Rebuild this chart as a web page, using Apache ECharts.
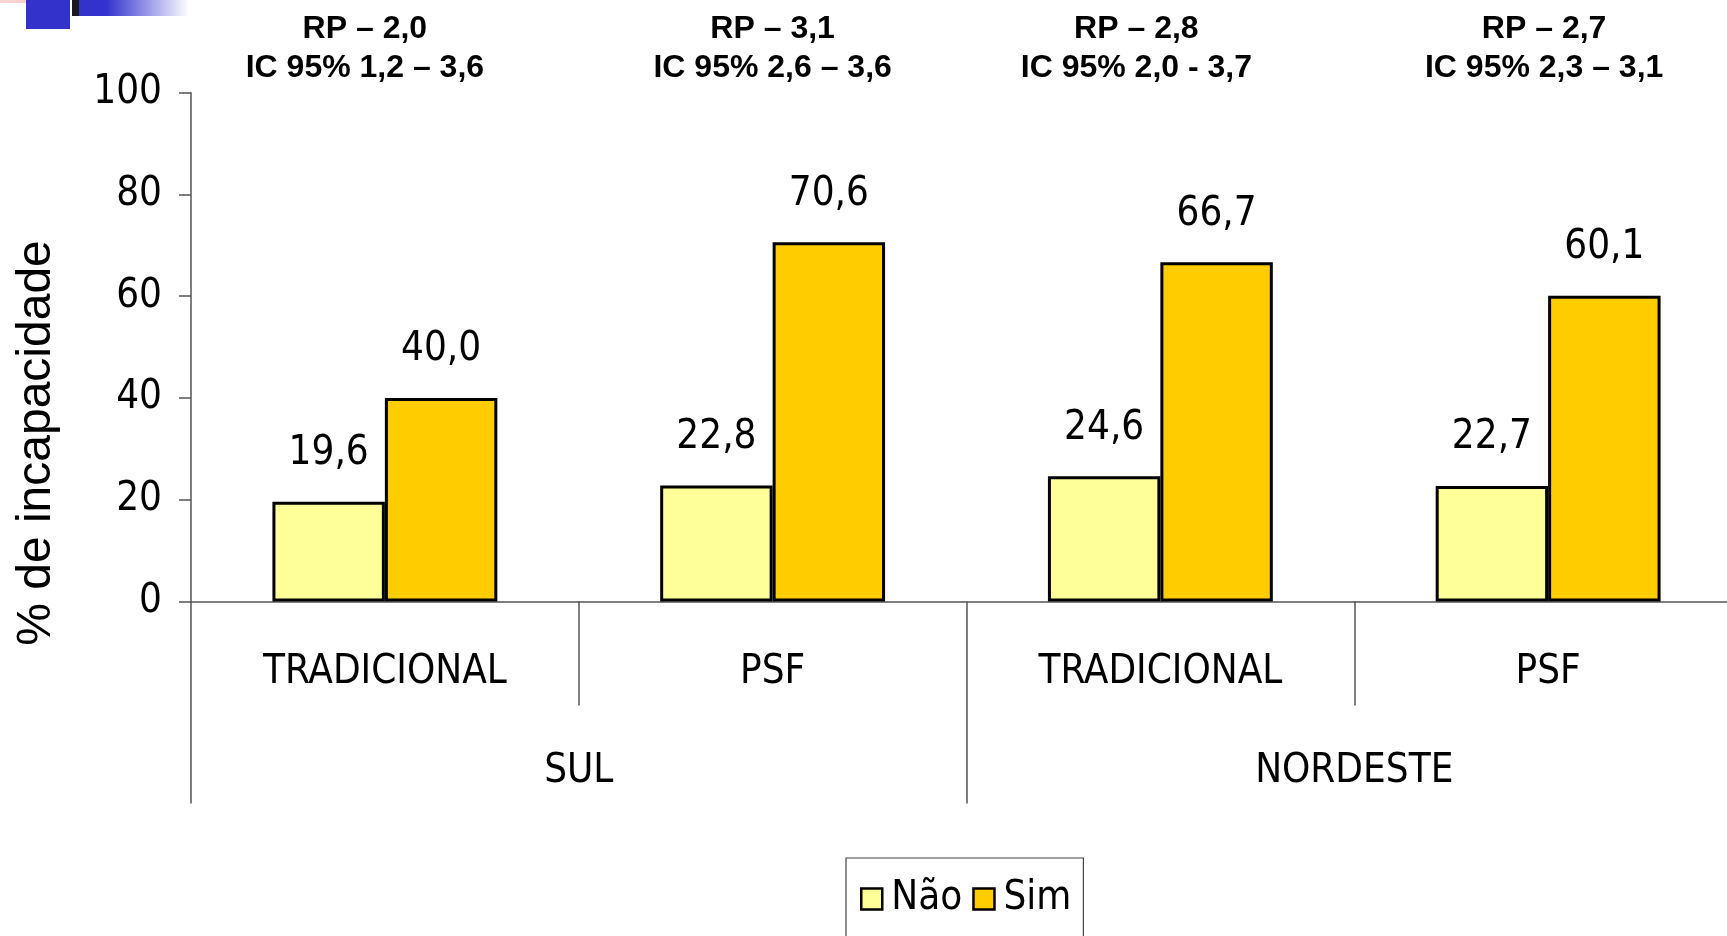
<!DOCTYPE html>
<html>
<head>
<meta charset="utf-8">
<script src="https://cdn.jsdelivr.net/npm/echarts@6/dist/echarts.min.js"></script>
<style>
  html, body { margin: 0; padding: 0; background: #ffffff; }
  #chart { width: 1727px; height: 936px; }
</style>
</head>
<body>
<div id="chart"></div>
<script>
// Inner and outer category levels
const categories = ['TRADICIONAL', 'PSF', 'TRADICIONAL', 'PSF'];
const regions = ['SUL', 'NORDESTE'];

// Series
const seriesNames = ['Não', 'Sim'];
const naoValues = [19.6, 22.8, 24.6, 22.7];
const simValues = [40.0, 70.6, 66.7, 60.1];

// Prevalence ratios and confidence intervals shown above each group
const rpValues = ['2,0', '3,1', '2,8', '2,7'];
const icRanges = ['1,2 – 3,6', '2,6 – 3,6', '2,0 - 3,7', '2,3 – 3,1'];

// Value axis ticks
const yTicks = [0, 20, 40, 60, 80, 100];

const NARROW = "'Liberation Sans Narrow', 'DejaVu Sans Condensed', 'Arial Narrow', sans-serif";
const REGULAR = "'Liberation Sans', Arial, sans-serif";
const AXIS_COLOR = '#555555';
const LABEL_SIZE = 40;

const fmt = v => v.toFixed(1).replace('.', ',');

const chart = echarts.init(document.getElementById('chart'), null, { renderer: 'canvas' });

const barSeries = (name, values, color) => ({
  name: name,
  type: 'bar',
  data: values,
  barGap: '0%',
  barCategoryGap: '42%',
  itemStyle: { color: color, borderColor: '#000000', borderWidth: 3 },
  label: {
    show: true,
    position: 'top',
    distance: 28,
    formatter: p => fmt(p.value),
    fontFamily: NARROW,
    fontSize: LABEL_SIZE,
    color: '#000000'
  },
  emphasis: { disabled: true },
  animation: false
});

chart.setOption({
  animation: false,
  backgroundColor: '#ffffff',
  grid: { left: 191, top: 92.7, width: 1551, bottom: 334.5, containLabel: false, outerBoundsMode: 'none' },
  legend: {
    data: seriesNames,
    left: 846,
    top: 858,
    orient: 'horizontal',
    padding: [21, 12, 24, 14],
    itemGap: 10,
    itemWidth: 21,
    itemHeight: 21,
    borderColor: '#444444',
    borderWidth: 1.2,
    borderRadius: 0,
    icon: 'rect',
    selectedMode: false,
    itemStyle: { borderColor: '#000000', borderWidth: 2.5 },
    textStyle: { fontFamily: NARROW, fontSize: LABEL_SIZE, color: '#000000', padding: [0, 0, 0, 4] }
  },
  xAxis: [
    {
      type: 'category',
      data: categories,
      position: 'bottom',
      axisLine: { show: true, onZero: true, lineStyle: { color: AXIS_COLOR, width: 1.5 } },
      axisTick: { show: true, interval: 0, length: 104, lineStyle: { color: AXIS_COLOR, width: 1.5 } },
      axisLabel: { interval: 0, margin: 51, fontFamily: NARROW, fontSize: LABEL_SIZE, color: '#000000' },
      splitLine: { show: false }
    },
    {
      type: 'category',
      data: regions,
      position: 'bottom',
      axisLine: { show: false },
      axisTick: { show: true, interval: 0, length: 202, lineStyle: { color: AXIS_COLOR, width: 1.5 } },
      axisLabel: { interval: 0, margin: 150, fontFamily: NARROW, fontSize: LABEL_SIZE, color: '#000000' },
      splitLine: { show: false }
    }
  ],
  yAxis: {
    type: 'value',
    min: yTicks[0],
    max: yTicks[yTicks.length - 1],
    interval: yTicks[1] - yTicks[0],
    axisLine: { show: true, lineStyle: { color: AXIS_COLOR, width: 1.5 } },
    axisTick: { show: true, length: 12, lineStyle: { color: AXIS_COLOR, width: 1.5 } },
    axisLabel: { margin: 29, fontFamily: NARROW, fontSize: LABEL_SIZE, color: '#000000' },
    splitLine: { show: false }
  },
  series: [
    barSeries(seriesNames[0], naoValues, '#FFFF99'),
    barSeries(seriesNames[1], simValues, '#FFCC00')
  ],
  graphic: [
    // corner ornament
    { id: 'ornPink', type: 'rect', shape: { x: 0, y: 0, width: 57, height: 3 }, silent: true,
      style: { fill: new echarts.graphic.LinearGradient(0, 0, 1, 0, [{ offset: 0, color: '#ffd6d6' }, { offset: 1, color: '#ffc4c4' }]) } },
    { id: 'ornBlue', type: 'rect', shape: { x: 26, y: 0, width: 44, height: 29 }, silent: true, style: { fill: '#3333cc' } },
    { id: 'ornBlack', type: 'rect', shape: { x: 72, y: 0, width: 7, height: 16 }, silent: true, style: { fill: '#1a1a1a' } },
    { id: 'ornFade', type: 'rect', shape: { x: 79, y: 0, width: 110, height: 16 }, silent: true,
      style: { fill: new echarts.graphic.LinearGradient(0, 0, 1, 0, [{ offset: 0, color: '#3333cc' }, { offset: 0.25, color: '#3333cc' }, { offset: 1, color: '#ffffff' }]) } },
    // value axis title
    { id: 'yTitle', type: 'text', x: 37, y: 443, rotation: Math.PI / 2, silent: true,
      style: { text: '% de incapacidade', font: '48px ' + REGULAR, fill: '#000000', textAlign: 'center', textVerticalAlign: 'middle' } }
  ]
});

// Group headers, centred over each category with a small nudge
const headerNudge = [-20, 0, -24, -4];
chart.setOption({
  graphic: rpValues.map((rp, i) => ({
    id: 'header' + i,
    type: 'text',
    x: chart.convertToPixel({ xAxisIndex: 0 }, i) + headerNudge[i],
    y: 48.3,
    silent: true,
    style: {
      text: 'RP – ' + rp + '\nIC 95% ' + icRanges[i],
      font: 'bold 32px ' + REGULAR,
      lineHeight: 39,
      fill: '#000000',
      textAlign: 'center',
      textVerticalAlign: 'middle'
    }
  }))
});
</script>
</body>
</html>
